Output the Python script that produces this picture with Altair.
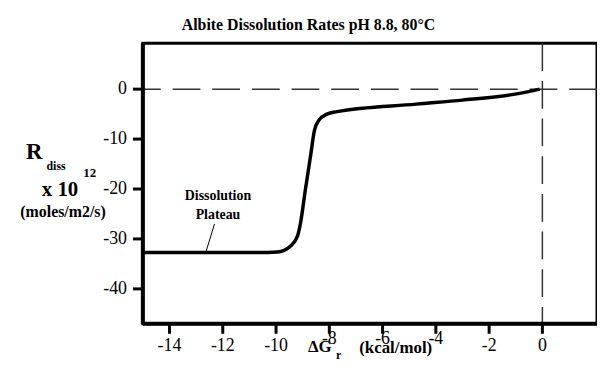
import altair as alt
import pandas as pd

# Curve: reaction free energy (kcal/mol) vs dissolution rate (x 1e-12 moles/m2/s)
dg = [-15.0, -10.7, -9.95, -9.45, -9.2, -9.08, -8.9, -8.71, -8.56, -8.4,
      -8.09, -7.71, -4.74, -3.0, -1.14, -0.52, -0.1]
rate = [-32.7, -32.7, -32.6, -31.4, -29.5, -26.8, -20.2, -13.6, -8.3, -6.3,
        -5.0, -4.5, -3.0, -2.2, -1.1, -0.5, 0.0]

x_ticks = [-14, -12, -10, -8, -6, -4, -2, 0]
x_raised = [-8, -6, -4]
y_ticks = [0, -10, -20, -30, -40]

# Annotation "Dissolution Plateau"
note_lines = ["Dissolution", "Plateau"]
note_x = [-12.18, -12.18]
note_y = [-21.5, -25.3]
leader_x = [-12.31]
leader_y = [-27.0]
leader_x2 = [-12.62]
leader_y2 = [-32.4]

# Title / axis-title texts (text, pixel offsets from plot origin, font size)
title_text = ["Albite Dissolution Rates pH 8.8, 80°C",
              "R", "diss", "x 10", "12", "(moles/m2/s)",
              "ΔG", "r", "(kcal/mol)"]
title_px = [167, -109.5, -87.5, -83.5, -53.5, -80.5, 178.5, 197.5, 255]
title_py = [-18, 110, 124, 148, 131, 170, 306, 314, 307]
title_fs = [16, 23, 12, 21, 13, 16, 17, 12, 17]

FONT = "Liberation Serif"
XD = [-15.0, 2.05]
YD = [-47.0, 9.2]
W, H = 458, 283

curve = pd.DataFrame({"dg": dg, "rate": rate})
xs = alt.Scale(domain=XD, nice=False, zero=False)
ys = alt.Scale(domain=YD, nice=False, zero=False)

line = alt.Chart(curve).mark_line(
    color="black", strokeWidth=3.5, interpolate="monotone"
).encode(
    x=alt.X("dg:Q", scale=xs, axis=None),
    y=alt.Y("rate:Q", scale=ys, axis=None),
)

hz = alt.Chart(pd.DataFrame({"v": [0]})).mark_rule(
    color="#333", strokeWidth=1.5, strokeDash=[28, 12]
).encode(y=alt.Y("v:Q", scale=ys, axis=None))

vt = alt.Chart(pd.DataFrame({"v": [0]})).mark_rule(
    color="#333", strokeWidth=1.5, strokeDash=[28, 10]
).encode(x=alt.X("v:Q", scale=xs, axis=None))

# Thick left and bottom axis lines
left_edge = alt.Chart(pd.DataFrame({"v": [XD[0]]})).mark_rule(
    color="black", strokeWidth=4
).encode(x=alt.X("v:Q", scale=xs, axis=None))
bottom_edge = alt.Chart(pd.DataFrame({"v": [YD[0]]})).mark_rule(
    color="black", strokeWidth=4
).encode(y=alt.Y("v:Q", scale=ys, axis=None))

# Hand-drawn ticks and tick labels
xt = pd.DataFrame({"v": x_ticks, "lab": [str(v) for v in x_ticks]})
xt["raised"] = xt["v"].isin(x_raised)
yt = pd.DataFrame({"v": y_ticks, "lab": [str(v) for v in y_ticks]})

x_tick_marks = alt.Chart(xt).mark_rule(color="black", strokeWidth=3).encode(
    x=alt.X("v:Q", scale=xs, axis=None), y=alt.value(H), y2=alt.value(H + 10))
x_labels = alt.Chart(xt).transform_filter("!datum.raised").mark_text(
    font=FONT, fontSize=18, color="black", align="center", baseline="top"
).encode(x=alt.X("v:Q", scale=xs, axis=None), y=alt.value(H + 13), text="lab:N")
x_labels_up = alt.Chart(xt).transform_filter("datum.raised").mark_text(
    font=FONT, fontSize=18, color="black", align="center", baseline="top"
).encode(x=alt.X("v:Q", scale=xs, axis=None), y=alt.value(H + 6), text="lab:N")

y_tick_marks = alt.Chart(yt).mark_rule(color="black", strokeWidth=3).encode(
    y=alt.Y("v:Q", scale=ys, axis=None), x=alt.value(-10), x2=alt.value(0))
y_labels = alt.Chart(yt).mark_text(
    font=FONT, fontSize=18, color="black", align="right", baseline="middle"
).encode(y=alt.Y("v:Q", scale=ys, axis=None), x=alt.value(-16), text="lab:N")

note = alt.Chart(pd.DataFrame({"t": note_lines, "x": note_x, "y": note_y})).mark_text(
    font=FONT, fontSize=14, fontWeight="bold", color="black", align="center", baseline="middle"
).encode(x=alt.X("x:Q", scale=xs, axis=None), y=alt.Y("y:Q", scale=ys, axis=None), text="t:N")

leader = alt.Chart(pd.DataFrame({"x": leader_x, "y": leader_y, "x2": leader_x2, "y2": leader_y2})).mark_rule(
    color="black", strokeWidth=1
).encode(x=alt.X("x:Q", scale=xs, axis=None), y=alt.Y("y:Q", scale=ys, axis=None), x2="x2:Q", y2="y2:Q")

text_layers = []
for t, px, py, fs in zip(title_text, title_px, title_py, title_fs):
    text_layers.append(
        alt.Chart(pd.DataFrame({"t": [t]})).mark_text(
            font=FONT, fontWeight="bold", color="black", align="center",
            baseline="middle", fontSize=fs
        ).encode(x=alt.value(px), y=alt.value(py), text="t:N")
    )

chart = alt.layer(
    hz, vt, line, left_edge, bottom_edge,
    x_tick_marks, x_labels, x_labels_up, y_tick_marks, y_labels,
    note, leader, *text_layers
).properties(
    width=W, height=H,
    autosize=alt.AutoSizeParams(type="none"),
    padding={"left": 136, "top": 34, "right": 0, "bottom": 38},
    background="white",
).configure_view(
    stroke="black", strokeWidth=3
)

chart.save("out.html", embed_options={"renderer": "svg", "actions": False})
